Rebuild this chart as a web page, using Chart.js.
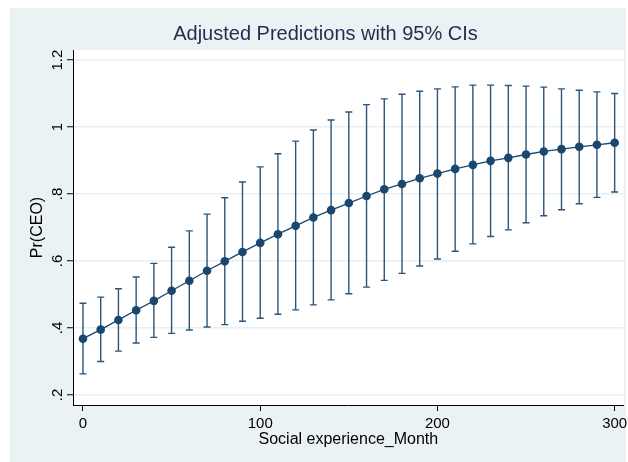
<!DOCTYPE html>
<html>
<head>
<meta charset="utf-8">
<script src="https://cdn.jsdelivr.net/npm/chart.js@4"></script>
<style>
  html, body { margin: 0; padding: 0; background: #fff; }
  canvas { display: block; }
</style>
</head>
<body>
<canvas id="chart" width="628" height="462"></canvas>
<script>
// --- data ---
const months = [0, 10, 20, 30, 40, 50, 60, 70, 80, 90, 100, 110, 120, 130, 140, 150,
  160, 170, 180, 190, 200, 210, 220, 230, 240, 250, 260, 270, 280, 290, 300];
const predicted = [0.368, 0.395, 0.424, 0.453, 0.481, 0.511, 0.541, 0.571, 0.599, 0.627,
  0.654, 0.680, 0.705, 0.730, 0.752, 0.773, 0.794, 0.814, 0.830, 0.847, 0.861, 0.875,
  0.887, 0.899, 0.908, 0.918, 0.927, 0.934, 0.941, 0.947, 0.953];
const upperCI = [0.474, 0.492, 0.517, 0.552, 0.593, 0.641, 0.690, 0.740, 0.789, 0.836,
  0.881, 0.920, 0.958, 0.991, 1.021, 1.045, 1.067, 1.084, 1.098, 1.107, 1.114, 1.120,
  1.125, 1.125, 1.124, 1.122, 1.119, 1.114, 1.110, 1.105, 1.100];
const lowerCI = [0.263, 0.300, 0.331, 0.355, 0.372, 0.384, 0.394, 0.403, 0.410, 0.420,
  0.429, 0.441, 0.454, 0.469, 0.484, 0.502, 0.522, 0.542, 0.563, 0.585, 0.606, 0.629,
  0.651, 0.673, 0.693, 0.714, 0.735, 0.753, 0.771, 0.790, 0.806];
const xTicks = [0, 100, 200, 300];
const xTickLabels = ["0", "100", "200", "300"];
const yTicks = [0.2, 0.4, 0.6, 0.8, 1.0, 1.2];
const yTickLabels = [".2", ".4", ".6", ".8", "1", "1.2"];

const NAVY = "#1a476f";
const FONT = "'Liberation Sans', Arial, sans-serif";

// background: white border, stata-ish graph region, white plot region
const backgroundPlugin = {
  id: "bg",
  beforeDraw(chart) {
    const { ctx, chartArea } = chart;
    ctx.save();
    ctx.fillStyle = "#ffffff";
    ctx.fillRect(0, 0, chart.width, chart.height);
    ctx.fillStyle = "#eaf2f3";
    ctx.fillRect(10, 8, 616, 454);
    ctx.fillStyle = "#ffffff";
    ctx.fillRect(chartArea.left, chartArea.top, chartArea.right - chartArea.left, chartArea.bottom - chartArea.top);
    ctx.restore();
  }
};

// --- CI bars drawn through the scales ---
const ciPlugin = {
  id: "ci",
  beforeDatasetsDraw(chart) {
    const { ctx, scales: { x, y } } = chart;
    ctx.save();
    ctx.strokeStyle = "#2d5579";
    ctx.lineWidth = 1.4;
    months.forEach((m, i) => {
      const px = x.getPixelForValue(m);
      const top = y.getPixelForValue(upperCI[i]);
      const bot = y.getPixelForValue(lowerCI[i]);
      ctx.beginPath();
      ctx.moveTo(px, top);
      ctx.lineTo(px, bot);
      ctx.moveTo(px - 3.5, top);
      ctx.lineTo(px + 3.5, top);
      ctx.moveTo(px - 3.5, bot);
      ctx.lineTo(px + 3.5, bot);
      ctx.stroke();
    });
    ctx.restore();
  }
};

new Chart(document.getElementById("chart"), {
  type: "line",
  data: {
    datasets: [{
      data: months.map((m, i) => ({ x: m, y: predicted[i] })),
      borderColor: NAVY,
      borderWidth: 1.3,
      backgroundColor: NAVY,
      pointBackgroundColor: NAVY,
      pointBorderColor: NAVY,
      pointRadius: 4.3,
      pointBorderWidth: 0,
      tension: 0,
      fill: false
    }]
  },
  options: {
    responsive: false,
    animation: false,
    devicePixelRatio: 1,
    layout: { padding: { left: 26, right: 3, top: 0, bottom: 0 } },
    plugins: {
      legend: { display: false },
      tooltip: { enabled: false },
      title: {
        display: true,
        text: "Adjusted Predictions with 95% CIs",
        color: "#1f2d50",
        font: { family: FONT, size: 20, weight: "normal" },
        padding: { top: 22, bottom: 4 }
      }
    },
    scales: {
      x: {
        type: "linear",
        min: -5.63,
        max: 305.1,
        afterBuildTicks: s => { s.ticks = xTicks.map(v => ({ value: v })); },
        afterFit: s => {
          s.height = 57;
          s.paddingLeft = 0; s.paddingRight = 0;
        },
        ticks: {
          callback: (v, i) => xTickLabels[i],
          color: "#000",
          font: { family: FONT, size: 15 },
          padding: 4,
          maxRotation: 0,
          autoSkip: false
        },
        grid: { drawOnChartArea: false, tickLength: 6, tickColor: "#000", tickWidth: 1 },
        border: { display: true, color: "#000", width: 1 },
        title: {
          display: true,
          text: "Social experience_Month",
          color: "#000",
          font: { family: FONT, size: 16 },
          padding: { top: 0, bottom: 13 }
        }
      },
      y: {
        type: "linear",
        min: 0.17,
        max: 1.23,
        afterBuildTicks: s => { s.ticks = yTicks.map(v => ({ value: v })); },
        afterFit: s => {
          s.width = 47;
          s.paddingTop = 0; s.paddingBottom = 0;
        },
        ticks: {
          callback: (v, i) => yTickLabels[i],
          color: "#000",
          font: { family: FONT, size: 15 },
          padding: -1,
          crossAlign: "center",
          minRotation: 90,
          maxRotation: 90,
          autoSkip: false
        },
        grid: { color: "#e6eff1", lineWidth: 1.5, tickLength: 6, tickColor: "#000", tickWidth: 1 },
        border: { display: true, color: "#000", width: 1 },
        title: {
          display: true,
          text: "Pr(CEO)",
          color: "#000",
          font: { family: FONT, size: 16 },
          padding: { top: 1.5, bottom: 0 }
        }
      }
    }
  },
  plugins: [backgroundPlugin, ciPlugin]
});
</script>
</body>
</html>
